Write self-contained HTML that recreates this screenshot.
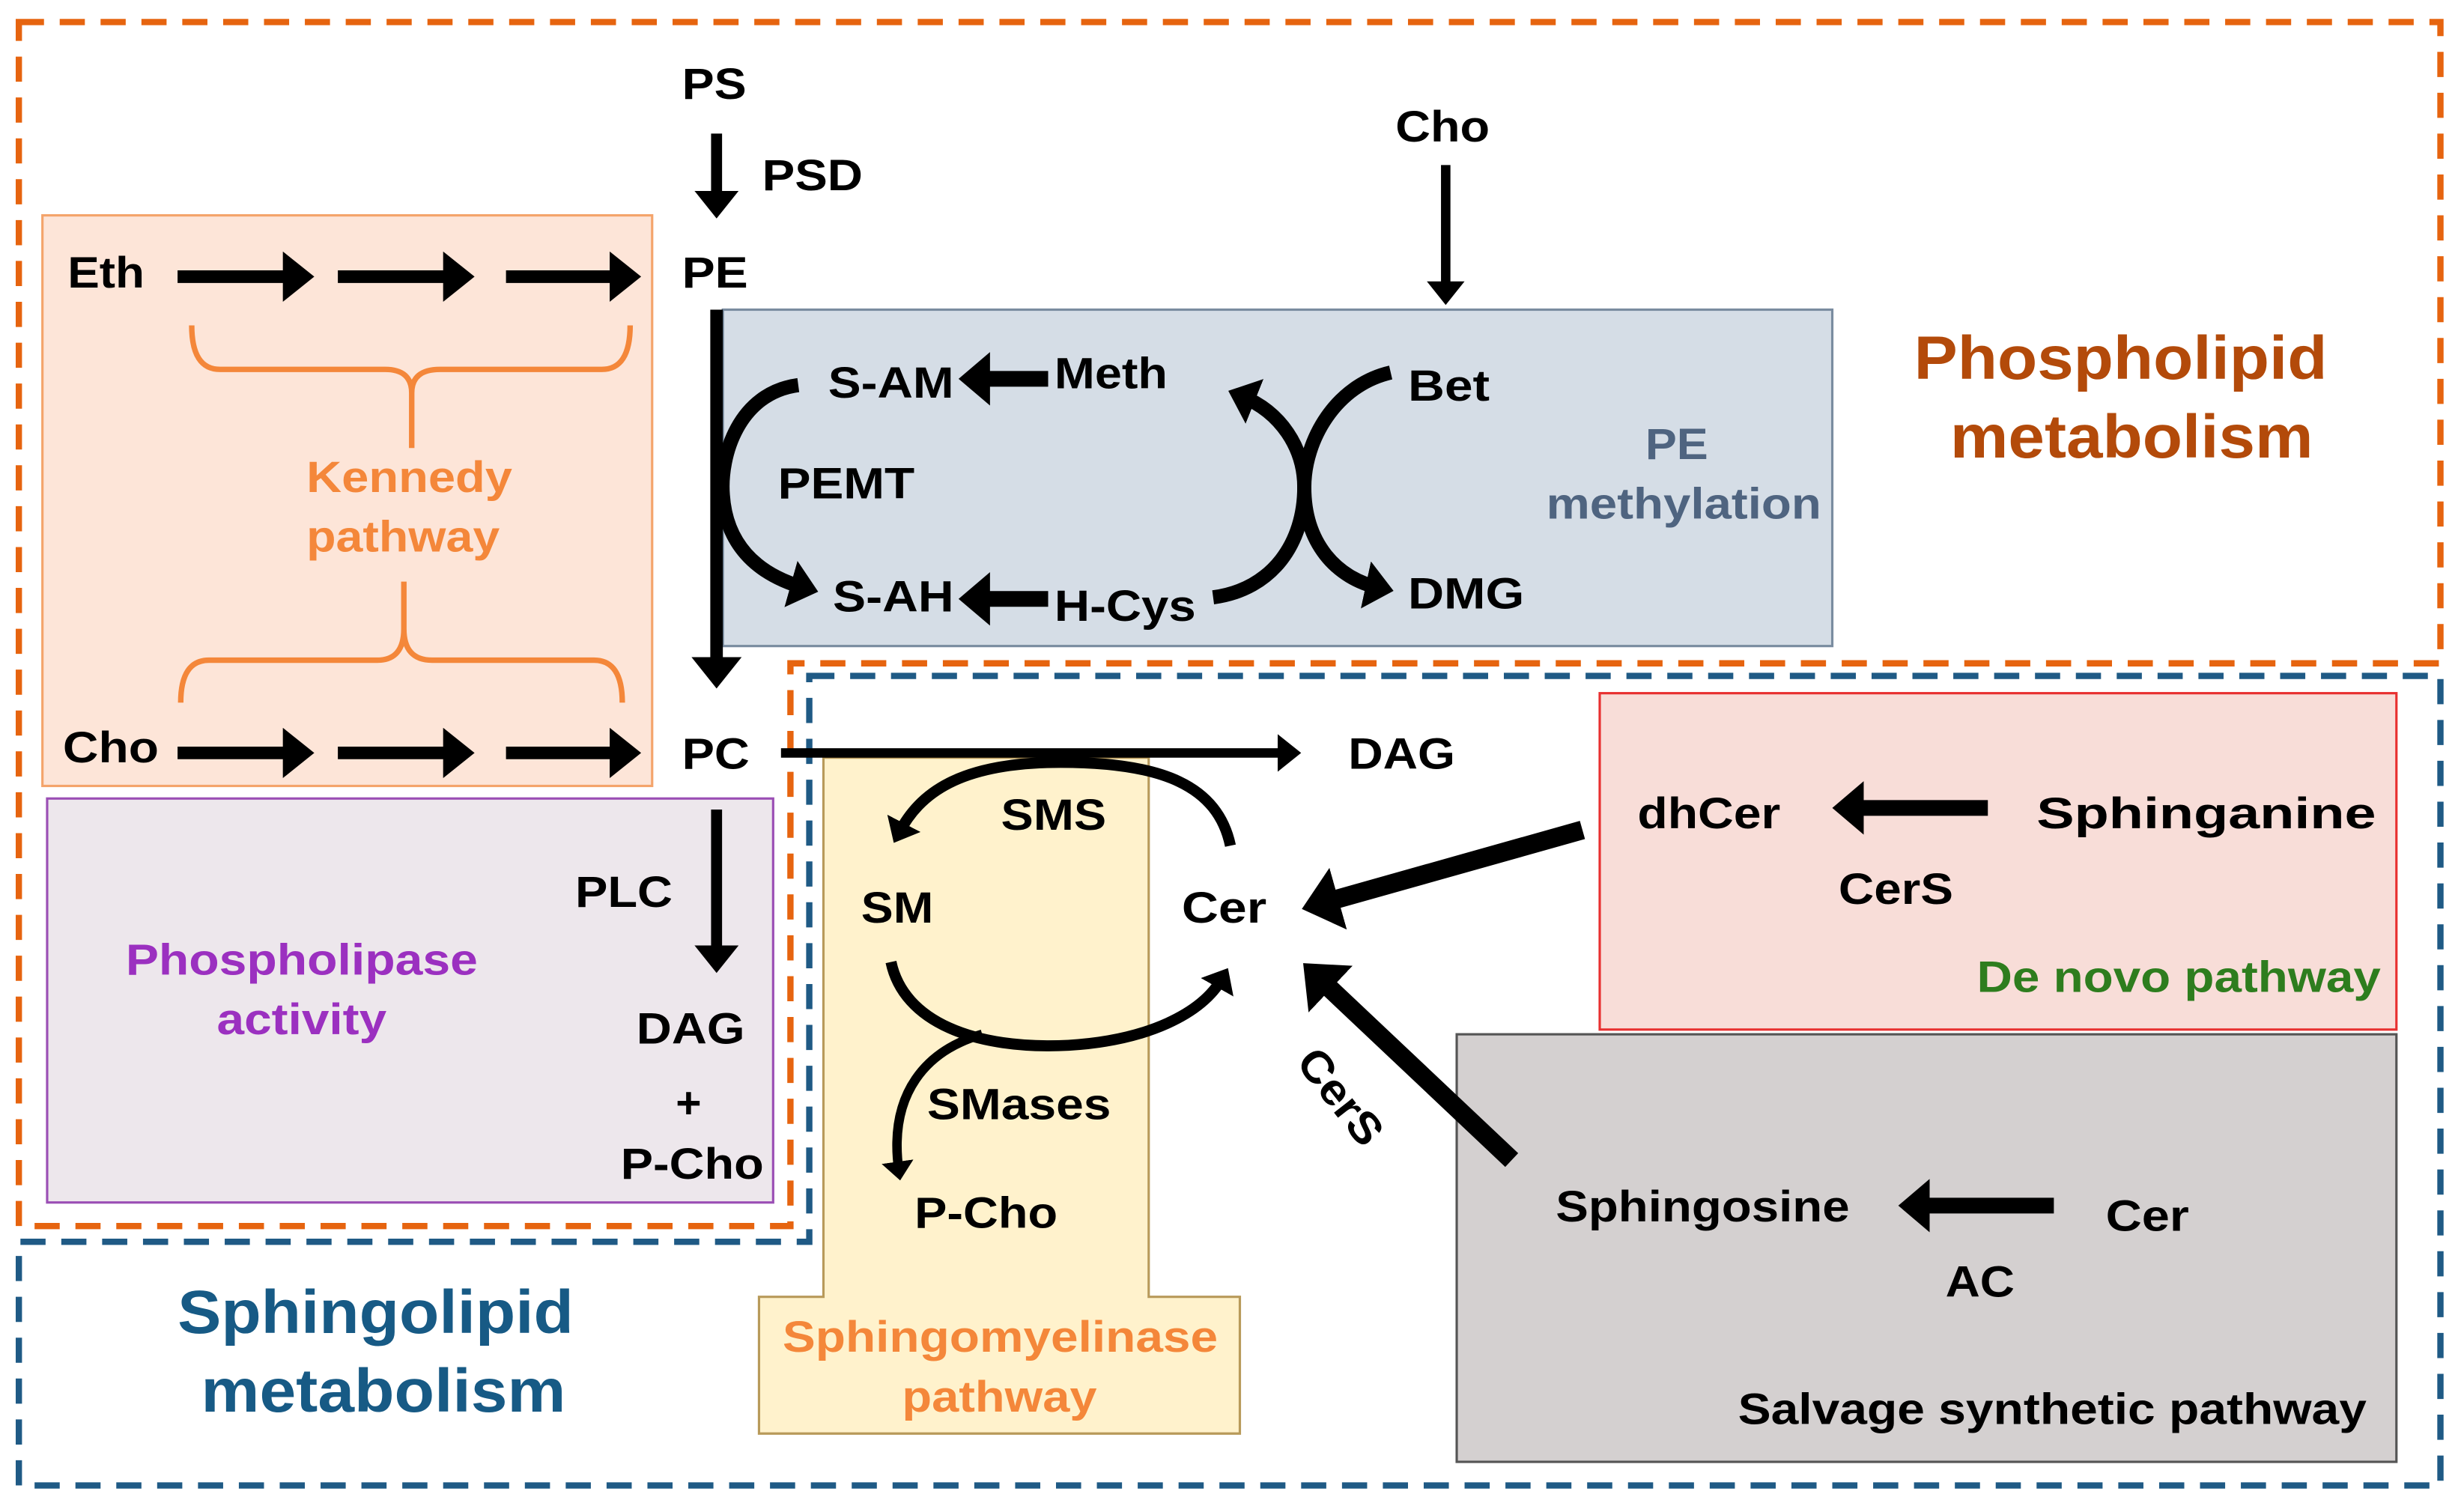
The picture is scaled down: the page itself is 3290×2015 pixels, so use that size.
<!DOCTYPE html>
<html><head><meta charset="utf-8"><style>
html,body{margin:0;padding:0;background:#fff;}
svg{display:block;}
text{font-family:"Liberation Sans",Arial,sans-serif;font-weight:bold;}
</style></head><body>
<svg width="3290" height="2015" viewBox="0 0 1568 960" preserveAspectRatio="none" xmlns="http://www.w3.org/2000/svg">
<defs>
<marker id="ah" markerWidth="4" markerHeight="4" refX="1.5" refY="2" orient="auto" markerUnits="strokeWidth"><path d="M0,0 L2.5,2 L0,4 z" fill="#000"/></marker>
<marker id="ac" markerWidth="3" markerHeight="3.4" refX="1" refY="1.7" orient="auto" markerUnits="strokeWidth"><path d="M0,0 L2,1.7 L0,3.4 z" fill="#000"/></marker>
</defs>
<rect x="27" y="137" width="388" height="363" fill="#FDE5D8" stroke="#F4A46B" stroke-width="1.5"/>
<rect x="30" y="508" width="462" height="257" fill="#EDE7EC" stroke="#9B4FB5" stroke-width="1.5"/>
<rect x="460" y="197" width="706" height="214" fill="#D5DDE6" stroke="#7A8CA0" stroke-width="1.5"/>
<rect x="1018" y="441" width="507" height="214" fill="#F8DDD8" stroke="#E83030" stroke-width="1.5"/>
<rect x="927" y="658" width="598" height="272" fill="#D4D0D0" stroke="#555" stroke-width="1.5"/>
<path d="M524,482 H731 V825 H789 V912 H483 V825 H524 Z" fill="#FFF2CC" stroke="#B89A5A" stroke-width="1.5"/>
<path d="M12,14 H1553 V422 H503 V780 H12 Z" fill="none" stroke="#E6640F" stroke-width="4" stroke-dasharray="16,10"/>
<path d="M515,430 H1553 V945 H12 V790 H515 Z" fill="none" stroke="#1F5A85" stroke-width="4" stroke-dasharray="16,10"/>
<g fill="none" stroke="#F4873A" stroke-width="3.5">
<path d="M122,207 Q122,235 140,235 H245 Q262,235 262,250 V285 M262,250 Q262,235 280,235 H383 Q401,235 401,207"/>
<path d="M115,447 Q115,420 133,420 H240 Q257,420 257,400 V370 M257,400 Q257,420 275,420 H378 Q396,420 396,447"/>
</g>
<g stroke="#000" fill="none">
<line x1="456" y1="85" x2="456" y2="132" stroke-width="7" marker-end="url(#ah)"/>
<line x1="113" y1="176" x2="192" y2="176" stroke-width="8" marker-end="url(#ah)"/>
<line x1="215" y1="176" x2="294" y2="176" stroke-width="8" marker-end="url(#ah)"/>
<line x1="322" y1="176" x2="400" y2="176" stroke-width="8" marker-end="url(#ah)"/>
<line x1="113" y1="479" x2="192" y2="479" stroke-width="8" marker-end="url(#ah)"/>
<line x1="215" y1="479" x2="294" y2="479" stroke-width="8" marker-end="url(#ah)"/>
<line x1="322" y1="479" x2="400" y2="479" stroke-width="8" marker-end="url(#ah)"/>
<line x1="920" y1="105" x2="920" y2="188" stroke-width="6" marker-end="url(#ah)"/>
<line x1="456" y1="197" x2="456" y2="430" stroke-width="8" marker-end="url(#ah)"/>
<line x1="497" y1="479" x2="822" y2="479" stroke-width="6" marker-end="url(#ah)"/>
<line x1="456" y1="515" x2="456" y2="612" stroke-width="7" marker-end="url(#ah)"/>
<line x1="667" y1="241" x2="620" y2="241" stroke-width="10" marker-end="url(#ac)"/>
<line x1="667" y1="381" x2="620" y2="381" stroke-width="10" marker-end="url(#ac)"/>
<line x1="1265" y1="514" x2="1176" y2="514" stroke-width="10" marker-end="url(#ac)"/>
<line x1="1307" y1="767" x2="1218" y2="767" stroke-width="10" marker-end="url(#ac)"/>
<line x1="1007" y1="528" x2="840" y2="575" stroke-width="12" marker-end="url(#ac)"/>
<line x1="962" y1="738" x2="838" y2="621" stroke-width="12" marker-end="url(#ac)"/>
<path d="M508,245 C470,250 458,290 460,315 C462,345 480,365 512,374" stroke-width="9" marker-end="url(#ac)"/>
<path d="M885,237 C850,245 830,280 830,310 C830,345 850,368 878,374" stroke-width="9" marker-end="url(#ac)"/>
<path d="M772,380 C810,375 830,345 830,310 C830,285 815,262 790,252" stroke-width="9" marker-end="url(#ac)"/>
<path d="M783,538 C775,500 740,485 675,485 C610,485 585,505 572,530" stroke-width="7" marker-end="url(#ac)"/>
<path d="M567,612 C575,650 620,668 680,665 C730,662 765,645 778,622" stroke-width="7" marker-end="url(#ac)"/>
<path d="M625,658 C590,668 565,695 572,745" stroke-width="6" marker-end="url(#ac)"/>
</g>
<g font-size="28" fill="#000" lengthAdjust="spacingAndGlyphs">
<text x="434" y="63" textLength="41" lengthAdjust="spacingAndGlyphs">PS</text>
<text x="485" y="121" textLength="64" lengthAdjust="spacingAndGlyphs">PSD</text>
<text x="434" y="183" textLength="42" lengthAdjust="spacingAndGlyphs">PE</text>
<text x="43" y="183" textLength="49" lengthAdjust="spacingAndGlyphs">Eth</text>
<text x="888" y="90" textLength="60" lengthAdjust="spacingAndGlyphs">Cho</text>
<text x="527" y="253" textLength="80" lengthAdjust="spacingAndGlyphs">S-AM</text>
<text x="671" y="247" textLength="72" lengthAdjust="spacingAndGlyphs">Meth</text>
<text x="896" y="255" textLength="52" lengthAdjust="spacingAndGlyphs">Bet</text>
<text x="495" y="317" textLength="87" lengthAdjust="spacingAndGlyphs">PEMT</text>
<text x="530" y="389" textLength="77" lengthAdjust="spacingAndGlyphs">S-AH</text>
<text x="671" y="395" textLength="90" lengthAdjust="spacingAndGlyphs">H-Cys</text>
<text x="896" y="387" textLength="74" lengthAdjust="spacingAndGlyphs">DMG</text>
<text x="40" y="485" textLength="61" lengthAdjust="spacingAndGlyphs">Cho</text>
<text x="434" y="489" textLength="43" lengthAdjust="spacingAndGlyphs">PC</text>
<text x="858" y="489" textLength="68" lengthAdjust="spacingAndGlyphs">DAG</text>
<text x="366" y="577" textLength="62" lengthAdjust="spacingAndGlyphs">PLC</text>
<text x="405" y="664" textLength="69" lengthAdjust="spacingAndGlyphs">DAG</text>
<text x="430" y="711">+</text>
<text x="395" y="750" textLength="91" lengthAdjust="spacingAndGlyphs">P-Cho</text>
<text x="637" y="528" textLength="67" lengthAdjust="spacingAndGlyphs">SMS</text>
<text x="548" y="587" textLength="46" lengthAdjust="spacingAndGlyphs">SM</text>
<text x="752" y="587" textLength="54" lengthAdjust="spacingAndGlyphs">Cer</text>
<text x="590" y="712" textLength="117" lengthAdjust="spacingAndGlyphs">SMases</text>
<text x="582" y="781" textLength="91" lengthAdjust="spacingAndGlyphs">P-Cho</text>
<text x="1042" y="527" textLength="91" lengthAdjust="spacingAndGlyphs">dhCer</text>
<text x="1296" y="527" textLength="216" lengthAdjust="spacingAndGlyphs">Sphinganine</text>
<text x="1170" y="575" textLength="73" lengthAdjust="spacingAndGlyphs">CerS</text>
<text x="990" y="777" textLength="187" lengthAdjust="spacingAndGlyphs">Sphingosine</text>
<text x="1340" y="783" textLength="53" lengthAdjust="spacingAndGlyphs">Cer</text>
<text x="1238" y="825" textLength="44" lengthAdjust="spacingAndGlyphs">AC</text>
<text x="1106" y="906" textLength="400" lengthAdjust="spacingAndGlyphs">Salvage synthetic pathway</text>
<text transform="translate(824,676) rotate(52)" textLength="70" lengthAdjust="spacingAndGlyphs">CerS</text>
</g>
<g font-size="28">
<text x="195" y="313" fill="#F4873A" textLength="131" lengthAdjust="spacingAndGlyphs">Kennedy</text>
<text x="195" y="351" fill="#F4873A" textLength="123" lengthAdjust="spacingAndGlyphs">pathway</text>
<text x="80" y="620" fill="#9B30C0" textLength="224" lengthAdjust="spacingAndGlyphs">Phospholipase</text>
<text x="138" y="658" fill="#9B30C0" textLength="108" lengthAdjust="spacingAndGlyphs">activity</text>
<text x="1047" y="292" fill="#4F6480" textLength="40" lengthAdjust="spacingAndGlyphs">PE</text>
<text x="984" y="330" fill="#4F6480" textLength="175" lengthAdjust="spacingAndGlyphs">methylation</text>
<text x="1258" y="631" fill="#2E7D1E" textLength="257" lengthAdjust="spacingAndGlyphs">De novo pathway</text>
<text x="498" y="860" fill="#F4873A" textLength="277" lengthAdjust="spacingAndGlyphs">Sphingomyelinase</text>
<text x="574" y="898" fill="#F4873A" textLength="124" lengthAdjust="spacingAndGlyphs">pathway</text>
<text x="1218" y="241" fill="#B34A0A" font-size="39" textLength="263" lengthAdjust="spacingAndGlyphs">Phospholipid</text>
<text x="1241" y="291" fill="#B34A0A" font-size="39" textLength="231" lengthAdjust="spacingAndGlyphs">metabolism</text>
<text x="113" y="848" fill="#175A85" font-size="39" textLength="252" lengthAdjust="spacingAndGlyphs">Sphingolipid</text>
<text x="128" y="898" fill="#175A85" font-size="39" textLength="232" lengthAdjust="spacingAndGlyphs">metabolism</text>
</g>
</svg>
</body></html>
